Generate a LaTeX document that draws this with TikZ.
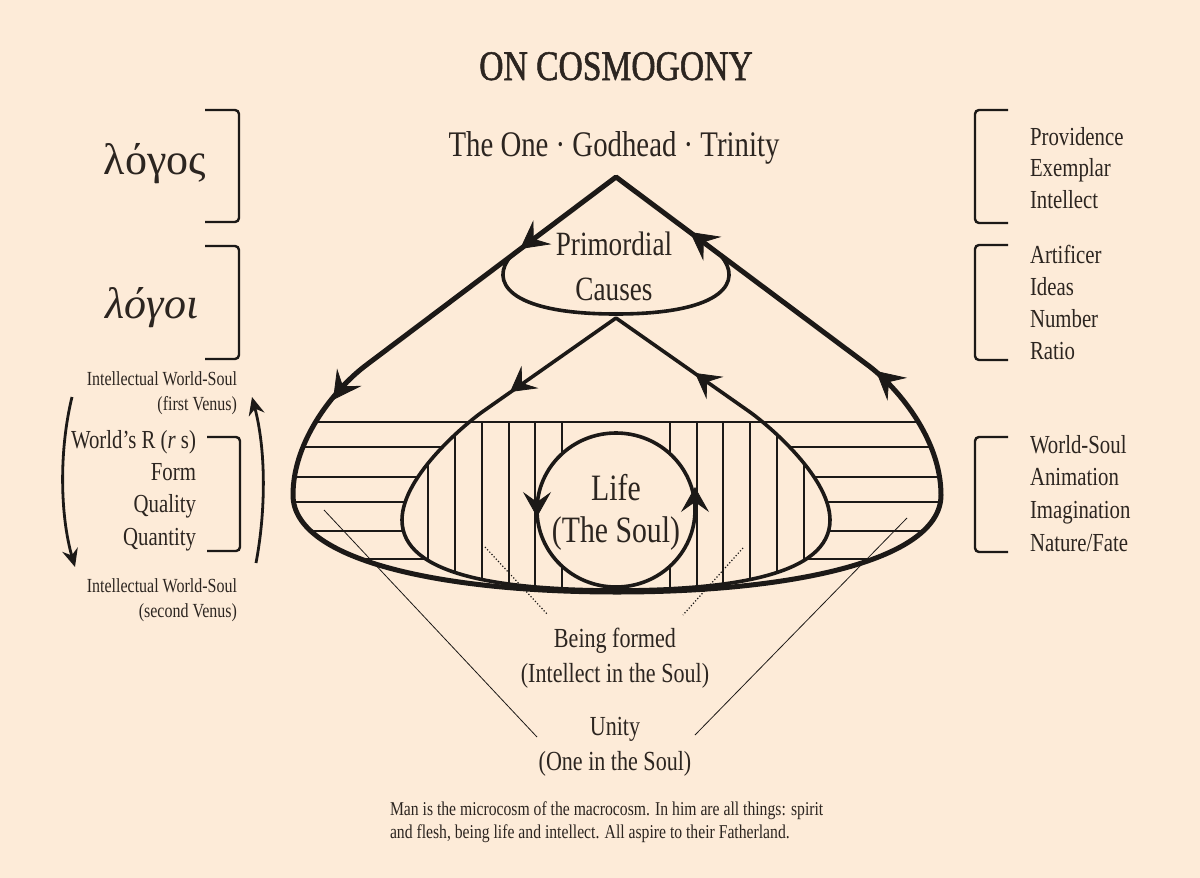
\documentclass[tikz,border=0pt]{standalone}
\usepackage{fontspec}
\setmainfont{Liberation Serif}[FakeStretch=0.8]
\newfontfamily\greekfont{Liberation Serif}
\newfontfamily\headfont{Liberation Serif}[FakeStretch=0.8,FakeBold=1.2]
\usetikzlibrary{arrows.meta}
\definecolor{bg}{RGB}{253,235,216}
\definecolor{ink}{RGB}{28,25,23}
\definecolor{txt}{RGB}{44,37,32}
\newcommand\fsz[1]{\fontsize{#1}{#1}\selectfont}
\def\outerpath{(616,177) -- (365,366) .. controls (335,389) and (293,440) .. (293,495) .. controls (293,560) and (440,592) .. (617,592) .. controls (794,592) and (941,560) .. (941,495) .. controls (941,440) and (899,389) .. (869,366) -- cycle}
\def\innerpath{(616,318) -- (485,410) .. controls (470,420) and (402,475) .. (402,520) .. controls (402,575) and (500,590) .. (616,590) .. controls (732,590) and (830,575) .. (830,520) .. controls (830,475) and (762,420) .. (747,410) -- cycle}
\begin{document}
\begin{tikzpicture}[x=0.5pt,y=-0.5pt,
  every node/.style={inner sep=0pt, outer sep=0pt, text=txt},
  outerline/.style={draw=ink, line width=2.5pt, line join=round},
  innerline/.style={draw=ink, line width=1.8pt, line join=round},
  hatch/.style={draw=ink, line width=0.6pt},
  bracketline/.style={draw=ink, line width=1.2pt, rounded corners=2pt},
  arcline/.style={draw=ink, line width=1.4pt, -{Stealth[length=9pt,width=8pt,inset=3pt]}},
  flowtip/.style={draw=ink, fill=ink, line width=0.4pt, -{Stealth[length=14pt,width=15pt,inset=5.5pt]}},
  innertip/.style={draw=ink, fill=ink, line width=0.4pt, -{Stealth[length=12.5pt,width=14pt,inset=5pt]}},
  thinline/.style={draw=ink, line width=0.4pt},
  dotline/.style={draw=ink, line width=0.6pt, densely dotted},
  big/.style={font=\fsz{18}},
  mid/.style={font=\fsz{13.8}},
  side/.style={font=\fsz{13}},
  small/.style={font=\fsz{10}}
]
\fill[bg] (0,0) rectangle (1200,878);
\useasboundingbox (0,0) rectangle (1200,878);

% hatching between outer and inner shapes
\begin{scope}
  \clip \outerpath;
  \foreach \yy in {447,477,502,531,559} \draw[hatch] (250,\yy) -- (980,\yy);
\end{scope}
\fill[bg] \innerpath;
\begin{scope}
  \clip \outerpath;
  \draw[hatch] (250,422) -- (980,422);
\end{scope}
\begin{scope}
  \clip \innerpath;
  \foreach \xx in {428,455,482,509,535,562,670,697,723,750,777,804} \draw[hatch] (\xx,422) -- (\xx,600);
\end{scope}

% the soul circle
\coordinate (soul) at (616,510);
\draw[innerline, fill=bg] (soul) ellipse [x radius=79, y radius=77];

% outlines
\draw[outerline] \outerpath;
\draw[innerline] \innerpath;
\draw[innerline] (511,256) .. controls (490,280) and (505,314) .. (616,314) .. controls (727,314) and (742,280) .. (721,256);

% thin guide lines
\coordinate (ll1) at (324,510); \coordinate (ll2) at (537,737);
\coordinate (rl1) at (907,518); \coordinate (rl2) at (695,735);
\coordinate (ld1) at (485,547); \coordinate (ld2) at (548,615);
\coordinate (rd1) at (743,548); \coordinate (rd2) at (683,615);
\draw[thinline] (ll1) -- (ll2);
\draw[thinline] (rl1) -- (rl2);
\draw[dotline] (ld1) -- (ld2);
\draw[dotline] (rd1) -- (rd2);

% flow arrow tips
\draw[flowtip] (528,243) -- (520,249);
\draw[flowtip] (698,238) -- (690,232);
\draw[flowtip] (338,393) -- (333,400);
\draw[flowtip] (883,377) -- (876,371);
\draw[innertip] (518,386) -- (510,392);
\draw[innertip] (703,379) -- (695,373);
\draw[innertip] (537,505) -- (537,517);
\draw[innertip] (695,499) -- (695,487);

% left arcs
\coordinate (la1) at (72,397); \coordinate (la2) at (75,567);
\coordinate (ra1) at (256,563); \coordinate (ra2) at (252,397);
\draw[arcline] (la1) .. controls (59,450) and (60,515) .. (la2);
\draw[arcline] (ra1) .. controls (266,510) and (266,450) .. (ra2);

% brackets
\draw[bracketline] (205,110) -- (239,110) -- (239,222) -- (205,222);
\draw[bracketline] (205,246) -- (239,246) -- (239,359) -- (205,359);
\draw[bracketline] (207,437) -- (240,437) -- (240,551) -- (207,551);
\draw[bracketline] (1008,110) -- (975,110) -- (975,223) -- (1008,223);
\draw[bracketline] (1008,245) -- (975,245) -- (975,360) -- (1008,360);
\draw[bracketline] (1008,437) -- (975,437) -- (975,552) -- (1008,552);

% texts
\node[anchor=base, font=\headfont\fsz{21}] (title) at (616,80) {ON COSMOGONY};
\node[anchor=base, big] (one) at (614,156) {The One · Godhead · Trinity};
\node[anchor=base, font=\greekfont\fsz{22}] (logos) at (155,174) {λόγος};
\node[anchor=base, font=\greekfont\itshape\fsz{22}] (logoi) at (152,318) {λόγοι};

\node[anchor=base, font=\fsz{17}] (prim) at (614,255) {Primordial};
\node[anchor=base, font=\fsz{17}] (caus) at (614,300) {Causes};
\node[anchor=base, font=\fsz{18.6}] (life) at (616,500) {Life};
\node[anchor=base, font=\fsz{18.6}] (thesoul) at (616,542) {(The Soul)};

\node[anchor=base, mid] (bf) at (615,647) {Being formed};
\node[anchor=base, mid] (ins) at (615,682) {(Intellect in the Soul)};
\node[anchor=base, mid] (un) at (615,735) {Unity};
\node[anchor=base, mid] (ons) at (615,770) {(One in the Soul)};

\node[anchor=base west, font=\fsz{9.8}] (cap1) at (390,815) {Man is the microcosm of the macrocosm. In him are all things: spirit};
\node[anchor=base west, font=\fsz{9.8}] (cap2) at (390,838) {and flesh, being life and intellect. All aspire to their Fatherland.};

\node[anchor=base west, side] (r1) at (1030,145) {Providence};
\node[anchor=base west, side] (r2) at (1030,176) {Exemplar};
\node[anchor=base west, side] (r3) at (1030,208) {Intellect};
\node[anchor=base west, side] (r4) at (1030,263) {Artificer};
\node[anchor=base west, side] (r5) at (1030,295) {Ideas};
\node[anchor=base west, side] (r6) at (1030,327) {Number};
\node[anchor=base west, side] (r7) at (1030,359) {Ratio};
\node[anchor=base west, side] (r8) at (1030,453) {World-Soul};
\node[anchor=base west, side] (r9) at (1030,485) {Animation};
\node[anchor=base west, side] (r10) at (1030,518) {Imagination};
\node[anchor=base west, side] (r11) at (1030,551) {Nature/Fate};

\node[anchor=base east, small] (iws1) at (237,385) {Intellectual World-Soul};
\node[anchor=base east, small] (fv) at (237,410) {(first Venus)};
\node[anchor=base east, small] (iws2) at (237,592) {Intellectual World-Soul};
\node[anchor=base east, small] (sv) at (237,617) {(second Venus)};
\node[anchor=base east, side] (l1) at (196,448) {World's R (\textit{r} s)};
\node[anchor=base east, side] (l2) at (196,480) {Form};
\node[anchor=base east, side] (l3) at (196,512) {Quality};
\node[anchor=base east, side] (l4) at (196,545) {Quantity};
\end{tikzpicture}
\end{document}
